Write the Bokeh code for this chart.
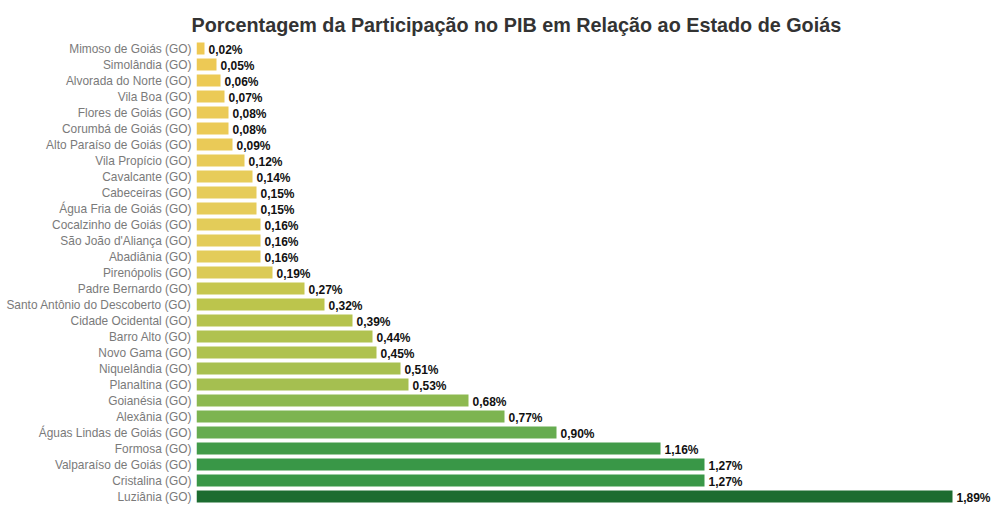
from bokeh.plotting import figure
from bokeh.models import ColumnDataSource, Range1d, FixedTicker
from bokeh.core.properties import value
from bokeh.embed import file_html
from bokeh.resources import INLINE

municipios = [
    "Mimoso de Goiás (GO)", "Simolândia (GO)", "Alvorada do Norte (GO)", "Vila Boa (GO)",
    "Flores de Goiás (GO)", "Corumbá de Goiás (GO)", "Alto Paraíso de Goiás (GO)", "Vila Propício (GO)",
    "Cavalcante (GO)", "Cabeceiras (GO)", "Água Fria de Goiás (GO)", "Cocalzinho de Goiás (GO)",
    "São João d'Aliança (GO)", "Abadiânia (GO)", "Pirenópolis (GO)", "Padre Bernardo (GO)",
    "Santo Antônio do Descoberto (GO)", "Cidade Ocidental (GO)", "Barro Alto (GO)", "Novo Gama (GO)",
    "Niquelândia (GO)", "Planaltina (GO)", "Goianésia (GO)", "Alexânia (GO)",
    "Águas Lindas de Goiás (GO)", "Formosa (GO)", "Valparaíso de Goiás (GO)", "Cristalina (GO)",
    "Luziânia (GO)",
]
participacao = [
    0.02, 0.05, 0.06, 0.07, 0.08, 0.08, 0.09, 0.12, 0.14, 0.15, 0.15, 0.16, 0.16, 0.16, 0.19,
    0.27, 0.32, 0.39, 0.44, 0.45, 0.51, 0.53, 0.68, 0.77, 0.90, 1.16, 1.27, 1.27, 1.89,
]

# colour scale stops (value -> rgb)
stops = [
    (0.00, (240, 200, 82)), (0.15, (230, 204, 90)), (0.30, (190, 198, 76)),
    (0.50, (170, 192, 80)), (0.70, (138, 184, 80)), (0.90, (102, 172, 80)),
    (1.20, (60, 152, 72)), (1.30, (56, 150, 70)), (1.89, (28, 108, 48)),
]


def color_for(v):
    for (a, ca), (b, cb) in zip(stops[:-1], stops[1:]):
        if a <= v <= b:
            t = (v - a) / (b - a)
            rgb = [round(x + (y - x) * t) for x, y in zip(ca, cb)]
            return "#%02x%02x%02x" % tuple(rgb)
    return "#%02x%02x%02x" % stops[-1][1]


n = len(municipios)
ypos = list(range(n))
src = ColumnDataSource(dict(
    y=ypos,
    v=participacao,
    name=municipios,
    lbl=[("%.2f" % v).replace(".", ",") + "%" for v in participacao],
    color=[color_for(v) for v in participacao],
))

p = figure(
    width=992, height=504, output_backend="svg", toolbar_location=None,
    x_range=Range1d(0, 1.99), y_range=Range1d(n - 0.5, -0.5),
    title="Porcentagem da Participação no PIB em Relação ao Estado de Goiás",
    min_border_left=196, min_border_right=0, min_border_bottom=0, min_border_top=40,
)
p.title.align = "left"
p.title.offset = -5
p.title.text_font = "Liberation Sans"
p.title.text_font_size = "19.8px"
p.title.text_font_style = "bold"
p.title.text_color = "#333333"

p.hbar(y="y", right="v", left=0, height=0.75, fill_color="color", line_color=None, source=src)
p.text(x="v", y="y", text="lbl", source=src, x_offset=4, y_offset=1,
       text_font=value("Liberation Sans"), text_font_size="12px", text_font_style="bold",
       text_color="#111111", text_baseline="middle", text_align="left")

p.xaxis.visible = False
p.yaxis.ticker = FixedTicker(ticks=ypos)
p.yaxis.major_label_overrides = {i: m for i, m in enumerate(municipios)}
p.yaxis.major_label_text_font = "Liberation Sans"
p.yaxis.major_label_text_font_size = "11.9px"
p.yaxis.major_label_text_color = "#7a7a7a"
p.yaxis.major_label_standoff = 5
p.yaxis.major_tick_out = 0
p.yaxis.major_tick_in = 0
p.yaxis.major_tick_line_color = None
p.yaxis.minor_tick_line_color = None
p.yaxis.axis_line_color = None
p.xgrid.visible = False
p.ygrid.visible = False
p.outline_line_color = None

open("out.html", "w").write(file_html(p, INLINE))
